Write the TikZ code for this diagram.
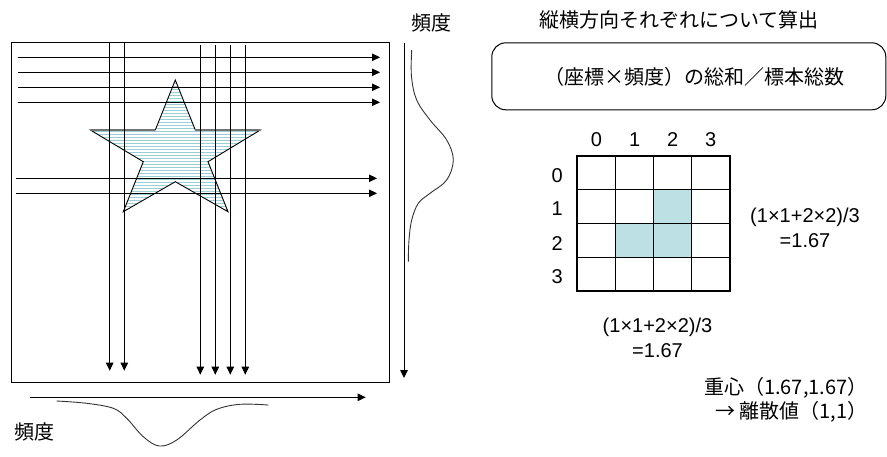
\documentclass[tikz,border=0pt]{standalone}
\usepackage{fontspec}
\setmainfont{Noto Sans CJK JP}
\newfontfamily\latinfont{Liberation Sans}
\usetikzlibrary{arrows.meta}
\definecolor{stripe}{HTML}{9CCFD5}
\definecolor{cellfill}{HTML}{BCE0E3}
\begin{document}
\begin{tikzpicture}[x=1pt,y=-1pt,line width=1pt,
  arr/.style={-{Triangle[length=8pt,width=7.5pt]}},
  lbl/.style={font=\fontsize{20}{24}\selectfont,inner sep=0pt},
  numlbl/.style={font=\latinfont\fontsize{20}{25}\selectfont,inner sep=0pt},
  freqcurve/.style={line width=0.9pt,draw=black!80},
  gridline/.style={line width=1pt},
  gridborder/.style={line width=2.2pt}]
\useasboundingbox (0,0) rectangle (887,456);
% main box
\node[draw,minimum width=378pt,minimum height=340pt,anchor=north west,inner sep=0pt,outer sep=0pt] (box) at (11,42) {};
% star
\coordinate (s1) at (175.3,80);
\coordinate (s2) at (195.3,130);
\coordinate (s3) at (260.3,130);
\coordinate (s4) at (208,161.7);
\coordinate (s5) at (228,211.7);
\coordinate (s6) at (175.3,181.7);
\coordinate (s7) at (123.3,211.7);
\coordinate (s8) at (143.3,161.7);
\coordinate (s9) at (90.3,130);
\coordinate (s10) at (155.3,130);
\begin{scope}
\clip (s1)--(s2)--(s3)--(s4)--(s5)--(s6)--(s7)--(s8)--(s9)--(s10)--cycle;
\foreach \y in {80.5,83.5,...,213}
  \draw[stripe,line width=1.6pt] (85,\y) -- (265,\y);
\end{scope}
\draw[line width=0.9pt] (s1)--(s2)--(s3)--(s4)--(s5)--(s6)--(s7)--(s8)--(s9)--(s10)--cycle;
\draw[line width=1.6pt,black!55] (s9)--(s10) (s2)--(s3);
% horizontal arrows
\foreach \y/\a/\b [count=\i] in {57.3/18/380,72.3/18/380,87.3/18/380,102.3/18/380,178.3/15.7/377,193.3/15.7/377}{
  \coordinate (h\i s) at (\a,\y);
  \coordinate (h\i e) at (\b,\y);
  \draw[arr] (h\i s) -- (h\i e);
}
% vertical arrows
\foreach \x/\a/\b [count=\i] in {109.7/42.3/370.7,124.3/42.3/370.7,200.3/45/374.7,215.3/45/374.7,230.3/45/374.7,245.3/45/374.7}{
  \coordinate (v\i s) at (\x,\a);
  \coordinate (v\i e) at (\x,\b);
  \draw[arr] (v\i s) -- (v\i e);
}
% right frequency axis
\coordinate (ra) at (404,42.7);
\coordinate (rb) at (404,378);
\draw[arr] (ra) -- (rb);
\draw[freqcurve] plot[smooth,tension=0.6] coordinates {(411.7,50) (411.5,76.7) (416.7,100) (430,120) (446.7,140) (453.3,160) (446.7,180) (430,193.3) (418.3,203.3) (411.7,220) (409,240) (408.3,261.7)};
\node[lbl] (fr) at (431,23) {頻度};
% bottom frequency axis
\coordinate (ba) at (30.3,397.3);
\coordinate (bb) at (365.7,397.3);
\draw[arr] (ba) -- (bb);
\draw[freqcurve] plot[smooth,tension=0.6] coordinates {(56.7,401) (86.7,403.3) (113.3,408.3) (126.7,418.3) (143.3,436.7) (159.3,446) (176.7,440) (200,420) (216.7,409.3) (240,404.3) (268.3,405)};
\node[lbl] (fb) at (35,432) {頻度};
% right side
\node[lbl] (title) at (679,20) {縦横方向それぞれについて算出};
\node[draw,rounded corners=14pt,minimum width=394pt,minimum height=67pt,inner sep=0pt] (formula) at (688.8,76.3) {};
\node[lbl] (ftext) at (694,76.7) {（座標×頻度）の総和／標本総数};
% grid
\fill[cellfill] (653.7,189.3) rectangle (691.7,257.7);
\fill[cellfill] (615.7,223.7) rectangle (653.7,257.7);
\foreach \x in {615.7,653.7,691.7} \draw[gridline] (\x,155.7) -- (\x,290.7);
\foreach \y in {189.3,223.7,257.7} \draw[gridline] (577.3,\y) -- (730,\y);
\node[draw,gridborder,minimum width=152.7pt,minimum height=135pt,anchor=north west,inner sep=0pt,outer sep=0pt] (grid) at (577.3,155.7) {};
\foreach \t/\x in {0/596.5,1/634.7,2/672.7,3/710.8}
  \node[numlbl] (c\t) at (\x,140) {\t};
\foreach \t/\y in {0/175.7,1/208.3,2/243.3,3/276.7}
  \node[numlbl] (r\t) at (557.3,\y) {\t};
\node[numlbl,align=center] (calcr) at (805,228) {(1×1+2×2)/3\\=1.67};
\node[numlbl,align=center] (calcb) at (657.5,337.5) {(1×1+2×2)/3\\=1.67};
\node[lbl,align=right,anchor=east] (result) at (868,400) {重心（1.67,1.67）\\→ 離散値（1,1）};
\end{tikzpicture}
\end{document}
